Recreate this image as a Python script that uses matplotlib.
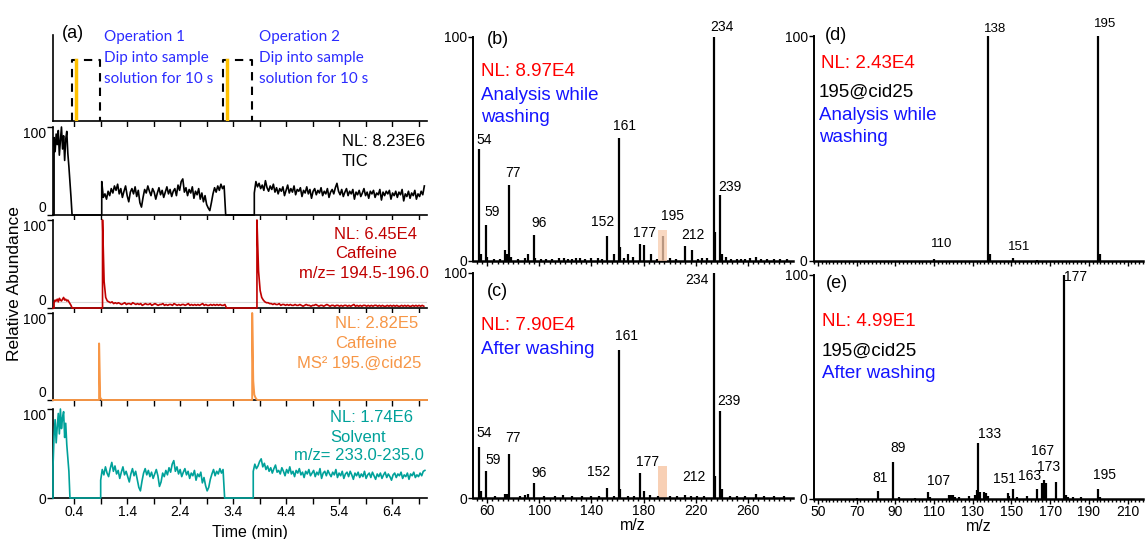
import numpy as np
import matplotlib.pyplot as plt
from matplotlib.ticker import FixedLocator, MultipleLocator, NullFormatter

plt.rcParams['font.family'] = ['Liberation Sans', 'DejaVu Sans']

W, H = 1148, 539

# ---------------- (a) chromatograms ----------------
t_max = 7.06
burst_step = 0.02
scan_step = 0.03

op_start = [0.36, 3.21]
op_end = [0.89, 3.76]
dip_time = [0.43, 3.28]
op_level = 0.71

tic_starts = [0.02, 0.92, 3.80]
tic_steps = [burst_step, scan_step, scan_step]
tic_burst = [88, 72, 92, 80, 96, 68, 85, 100, 75, 90, 62, 86, 95, 70, 55, 38, 20]
tic_run1 = [38, 20, 24, 18, 27, 22, 30, 25, 33, 28, 35, 24, 30, 20, 27, 33, 22, 15, 26, 30,
            24, 32, 21, 28, 14, 9, 20, 29, 25, 33, 27, 22, 30, 26, 18, 25, 31, 23, 28, 20,
            26, 32, 24, 29, 21, 27, 30, 22, 34, 28, 38, 41, 26, 31, 22, 29, 25, 32, 19, 27,
            23, 30, 18, 25, 15, 22, 12, 8, 5, 14, 24, 31, 26, 33, 28, 35, 30, 33]
tic_run2 = [25, 38, 32, 36, 30, 34, 28, 39, 31, 27, 33, 29, 35, 26, 31, 24, 30, 27, 32, 22,
            28, 34, 25, 30, 26, 33, 23, 29, 27, 31, 21, 28, 25, 32, 24, 29, 19, 27, 30, 23,
            28, 25, 31, 22, 27, 24, 30, 20, 26, 29, 24, 31, 36, 27, 23, 29, 21, 26, 30, 22,
            27, 24, 29, 18, 26, 23, 28, 21, 25, 30, 22, 26, 19, 27, 24, 28, 20, 25, 23, 29,
            17, 26, 22, 27, 24, 28, 18, 25, 22, 27, 20, 26, 23, 29, 16, 24, 21, 27, 19, 25,
            22, 28, 18, 24, 21, 27, 23, 33]

red_starts = [0.02, 0.935, 3.85]
red_steps = [burst_step, scan_step, scan_step]
red_burst = [6, 9, 8, 10, 7, 11, 9, 8, 10, 12, 9, 10, 8, 9, 7, 5, 3]
red_run1 = [100, 30, 12, 8, 7, 6, 7, 5, 6, 5, 6, 5, 4, 5, 6, 4, 5, 5, 4, 6, 5, 4, 5, 4, 5, 3,
            4, 5, 4, 4, 5, 3, 4, 5, 4, 3, 4, 4, 5, 3, 4, 3, 4, 4, 3, 5, 4, 3, 4, 3, 4, 4,
            3, 4, 5, 3, 4, 3, 4, 3, 4, 3, 4, 5, 3, 4, 3, 3, 4, 3, 4, 3, 4, 3, 4, 3, 3, 4]
red_run2 = [100, 42, 20, 12, 9, 7, 6, 6, 5, 5, 4, 5, 4, 4, 5, 3, 4, 4, 3, 4, 3, 4, 3, 3, 4,
            3, 3, 4, 3, 2, 3, 4, 3, 3, 2, 3, 3, 4, 3, 2, 3, 3, 2, 3, 4, 3, 2, 3, 3, 2, 3,
            3, 2, 3, 2, 3, 3, 2, 3, 2, 3, 4, 2, 3, 2, 3, 2, 3, 3, 2, 3, 2, 3, 2, 3, 3, 2,
            3, 2, 3, 2, 2, 3, 2, 3, 2, 3, 2, 3, 2, 2, 3, 2, 3, 2, 3, 2, 2, 3, 2, 3, 2, 3,
            2, 3, 2]
red_ref_level = 6.4

ms2_starts = [0.87, 3.76]
ms2_steps = [burst_step, burst_step]
ms2_peak1 = [65, 3, 1]
ms2_peak2 = [100, 22, 6, 3, 1]

sol_starts = [0.0, 0.90, 3.78]
sol_steps = [burst_step, scan_step, scan_step]
sol_burst = [35, 70, 88, 62, 80, 95, 72, 100, 78, 90, 97, 68, 84, 60, 45, 30, 0]
sol_run1 = [20, 32, 26, 35, 28, 24, 33, 40, 30, 36, 27, 31, 22, 29, 35, 26, 30, 24, 18, 27,
            33, 25, 30, 21, 12, 8, 19, 28, 33, 26, 31, 24, 29, 22, 27, 32, 25, 13, 18, 28,
            24, 31, 26, 34, 29, 38, 42, 30, 35, 27, 32, 24, 29, 33, 26, 30, 22, 28, 25, 31,
            20, 27, 24, 29, 17, 23, 14, 8, 12, 21, 27, 32, 25, 30, 27, 33, 28, 32]
sol_run2 = [30, 38, 33, 36, 41, 44, 35, 39, 32, 36, 30, 34, 28, 33, 37, 29, 31, 27, 34, 30,
            25, 32, 28, 35, 27, 30, 24, 31, 28, 33, 26, 29, 23, 30, 27, 32, 25, 28, 31, 24,
            29, 26, 33, 22, 28, 30, 25, 31, 27, 24, 29, 26, 32, 23, 28, 25, 30, 22, 27, 29,
            24, 30, 26, 21, 28, 25, 29, 23, 27, 24, 30, 22, 26, 28, 23, 29, 25, 21, 27, 24,
            28, 22, 26, 29, 23, 27, 24, 20, 26, 28, 23, 27, 25, 29, 22, 26, 24, 28, 21, 27,
            25, 29, 23, 26, 24, 28, 25, 30, 31]

# ---------------- spectra ----------------
b_mz = [54, 55, 59, 60, 65, 70, 74, 75, 77, 78, 84, 89, 91, 96, 97, 101, 105, 110, 115, 119,
        122, 125, 128, 131, 135, 140, 145, 148, 152, 157, 161, 162, 165, 168, 172, 177, 180,
        186, 190, 195, 200, 205, 212, 217, 222, 225, 229, 234, 235, 239, 240, 243, 247, 252,
        255, 258, 262, 266, 270, 275, 280, 285, 290]
b_int = [50, 3, 16, 2, 1, 1, 5, 3, 34, 2, 1, 1.5, 3, 11.6, 1.5, 1, 1, 1, 1.5, 1.5,
         1, 1, 1.5, 1.5, 1, 1.5, 1.5, 1, 11, 3, 55, 6.4, 1.5, 3, 2, 7.6, 7,
         3, 1, 11, 1.5, 1, 6.7, 5, 1, 1.5, 1.5, 100, 13, 29.5, 3, 2, 1, 1,
         1, 1, 1.5, 2, 1, 1, 1, 1, 1]
b_labels = [54, 59, 77, 96, 152, 161, 177, 195, 212, 234, 239]

c_mz = [54, 55, 59, 66, 74, 75, 77, 85, 89, 91, 96, 104, 112, 118, 125, 133, 140, 146, 152,
        157, 161, 162, 168, 173, 177, 180, 185, 191, 200, 206, 212, 216, 221, 226, 234, 235,
        239, 240, 246, 252, 258, 266, 272, 280, 288]
c_int = [22.7, 3, 12, 1, 2, 2, 19.5, 1, 1.5, 2, 6.7, 1, 1, 1.5, 1, 1, 1, 1, 4.4,
         1, 66, 4, 1, 1, 11, 3, 1.2, 1, 1, 1, 1.5, 1, 1, 1, 100, 10,
         38.7, 4, 1, 1, 1, 2, 1, 1, 1]
c_labels = [54, 59, 77, 96, 152, 161, 177, 212, 234, 239]

d_mz = [110, 138, 139, 151, 163, 195, 196]
d_int = [1, 100, 3, 1.5, 0.5, 100, 3]
d_labels = [110, 138, 151, 195]

e_mz = [70, 81, 89, 92, 100, 107, 108, 118, 119, 120, 121, 123, 128, 131, 132, 133, 134, 136,
        137, 138, 148, 149, 151, 153, 158, 163, 166, 167, 168, 173, 177, 178, 179, 182, 186,
        195, 196]
e_int = [0.5, 3.6, 16.5, 0.8, 0.5, 3, 1, 2, 2, 2, 1, 1, 1.5, 2, 4, 25, 3, 3,
         2.5, 1.5, 2.5, 1.5, 4.5, 1, 1.5, 4.5, 7, 8.5, 7, 7.5, 100, 2, 1, 1, 0.8,
         4.3, 1]
e_labels = [81, 89, 107, 133, 151, 163, 167, 173, 177, 195]

caffeine_window = (191, 198)
b_window_height = 13.8
c_window_height = 14.2

# label offsets (pixels) from peak top
b_off = [(5, 9), (6, 13), (4, 12), (5, 12), (-4, 14), (6, 12), (5, 11), (9, 20), (8, 11), (8, 10), (9, 8)]
c_off = [(5, 14), (7, 11), (4, 16), (5, 10), (-8, 16), (8, 13), (8, 11), (9, 18), (-17, -7), (8, 10)]
d_off = [(8, 15), (7, 7), (6, 11), (7, 12)]
e_off = [(2, 13), (5, 14), (10, 11), (11, 9), (-9, 10), (-7, 13), (-2, 29), (-7, 15), (12, -2), (6, 14)]

RED = '#c00000'
ORANGE = '#f79646'
TEAL = '#00a19a'
BLUE = '#1414ff'
OPBLUE = '#2b2bff'
BRIGHTRED = '#ff0000'


def build(starts, steps, runs, t_end):
    t, y = [0.0], [0.0]
    for s, st, r in zip(starts, steps, runs):
        tt = s + st * np.arange(len(r))
        t += [s] + list(tt)
        y += [0] + list(r)
        if tt[-1] < t_end - 0.1:
            t.append(tt[-1] + st)
            y.append(0)
    if t[-1] < t_end - 0.1:
        t.append(t_end)
        y.append(0)
    return np.array(t), np.array(y)


def rect(x0, y0, x1, y1):
    return [x0 / W, 1 - y1 / H, (x1 - x0) / W, (y1 - y0) / H]


fig = plt.figure(figsize=(W / 100, H / 100), dpi=100)


def ftext(x, y, s, **kw):
    kw.setdefault('va', 'center')
    fig.text(x / W, 1 - y / H, s, **kw)


def style_chrom(ax, labels=False, yt=True):
    for sp in ['top', 'right']:
        ax.spines[sp].set_visible(False)
    for sp in ['left', 'bottom']:
        ax.spines[sp].set_linewidth(1.2)
    ax.set_xlim(0, t_max)
    ax.xaxis.set_major_locator(FixedLocator(np.arange(0.4, 7.0, 1.0)))
    ax.xaxis.set_minor_locator(FixedLocator(np.arange(0.9, 7.0, 1.0)))
    ax.tick_params(axis='both', which='both', direction='out', length=4, width=1,
                   labelsize=10, pad=1)
    if labels:
        ax.set_xticklabels([f'{v:.1f}' for v in np.arange(0.4, 7.0, 1.0)])
    else:
        ax.xaxis.set_major_formatter(NullFormatter())
    if yt:
        ax.set_ylim(0, 100)
        ax.set_yticks([0, 100])
        ax.set_yticklabels(['0', '100'])
        ax.get_yticklabels()[1].set_va('top')
        if not labels:
            ax.get_yticklabels()[0].set_va('bottom')
    else:
        ax.set_yticks([])


# operation panel
ax0 = fig.add_axes(rect(53, 35, 427, 121))
style_chrom(ax0, yt=False)
ax0.set_ylim(0, 1)
for s, e, d in zip(op_start, op_end, dip_time):
    ax0.plot([s, s, e, e], [0, op_level, op_level, 0], color='k', lw=1.5,
             ls=(0, (4, 3)), clip_on=False)
    ax0.plot([d, d], [0, op_level], color='#ffc000', lw=2.5, zorder=3)

axes_a = []
for (y0, y1) in [(127, 215), (220, 308), (313, 400), (409, 498)]:
    ax = fig.add_axes(rect(53, y0, 427, y1))
    axes_a.append(ax)
ax_tic, ax_red, ax_ms2, ax_sol = axes_a

t, y = build(tic_starts, tic_steps, [tic_burst, tic_run1, tic_run2], t_max)
ax_tic.plot(t, y, color='k', lw=1.2, clip_on=False)
style_chrom(ax_tic)

ax_red.axhline(red_ref_level, color='#d9d9d9', lw=0.8, zorder=1)
t, y = build(red_starts, red_steps, [red_burst, red_run1, red_run2], t_max)
ax_red.plot(t, y, color=RED, lw=1.2, clip_on=False, zorder=3)
style_chrom(ax_red)

t, y = build(ms2_starts, ms2_steps, [ms2_peak1, ms2_peak2], t_max)
ax_ms2.plot(t, y, color=ORANGE, lw=1.4, clip_on=False, zorder=3)
style_chrom(ax_ms2)

t, y = build(sol_starts, sol_steps, [sol_burst, sol_run1, sol_run2], t_max)
ax_sol.plot(t, y, color=TEAL, lw=1.2, clip_on=False, zorder=3)
style_chrom(ax_sol, labels=True)

ftext(62, 34, '(a)', fontsize=13, ha='left')
for x0, n in zip([104, 259], [1, 2]):
    ftext(x0, 37, f'Operation {n}', fontsize=11, color=OPBLUE, family='Lato', ha='left')
    ftext(x0, 58, 'Dip into sample', fontsize=11, color=OPBLUE, family='Lato', ha='left')
    ftext(x0, 79, 'solution for 10 s', fontsize=11, color=OPBLUE, family='Lato', ha='left')

ftext(342, 141, 'NL: 8.23E6', fontsize=12, ha='left')
ftext(342, 162, 'TIC', fontsize=12, ha='left')
ftext(376, 235, 'NL: 6.45E4', fontsize=12, color=RED, ha='center')
ftext(366, 254, 'Caffeine', fontsize=12, color=RED, ha='center')
ftext(364, 274, 'm/z= 194.5-196.0', fontsize=12, color=RED, ha='center')
ftext(377, 324, 'NL: 2.82E5', fontsize=12, color=ORANGE, ha='center')
ftext(366, 344, 'Caffeine', fontsize=12, color=ORANGE, ha='center')
ftext(359, 363, 'MS² 195.@cid25', fontsize=12, color=ORANGE, ha='center')
ftext(372, 417, 'NL: 1.74E6', fontsize=12, color=TEAL, ha='center')
ftext(358, 437, 'Solvent', fontsize=12, color=TEAL, ha='center')
ftext(359, 455, 'm/z= 233.0-235.0', fontsize=12, color=TEAL, ha='center')
ftext(15, 284, 'Relative Abundance', fontsize=12.5, rotation=90, ha='center')
ftext(250, 532, 'Time (min)', fontsize=11.5, ha='center')


# ---------------- spectra panels ----------------
def spectrum(box, mz, inten, labels, offs, xlim, minor, show_x, lsize=10):
    ax = fig.add_axes(rect(*box))
    ax.vlines(mz, 0, inten, color='k', lw=1.6, clip_on=False, zorder=3)
    ax.set_xlim(*xlim)
    ax.set_ylim(0, 100)
    for sp in ['top', 'right']:
        ax.spines[sp].set_visible(False)
    ax.spines['left'].set_linewidth(1.4)
    ax.spines['bottom'].set_linewidth(1.8)
    ax.set_yticks([0, 100])
    ax.xaxis.set_minor_locator(MultipleLocator(minor))
    ax.tick_params(axis='both', which='both', direction='out', width=1, labelsize=10, pad=1)
    ax.tick_params(axis='x', which='minor', length=2.5)
    ax.tick_params(axis='x', which='major', length=3.5)
    ax.tick_params(axis='y', length=3.5)
    if not show_x:
        ax.xaxis.set_major_formatter(NullFormatter())
    lookup = dict(zip(mz, inten))
    for lab, (dx, dy) in zip(labels, offs):
        ax.annotate(str(lab), xy=(lab, lookup[lab]), xytext=(dx, dy),
                    textcoords='offset pixels', ha='center', va='center',
                    fontsize=lsize, annotation_clip=False)
    return ax


ax_b = spectrum((473, 37, 793, 261), b_mz, b_int, b_labels, b_off, (49.2, 294.6), 4, False)
ax_b.set_xticks(np.arange(60, 261, 40))
ax_b.bar(np.mean(caffeine_window), b_window_height, width=np.diff(caffeine_window)[0],
         color='#f8cbad', alpha=0.75, zorder=4)
ax_c = spectrum((473, 273, 793, 498), c_mz, c_int, c_labels, c_off, (49.2, 294.6), 4, True)
ax_c.set_xticks(np.arange(60, 261, 40))
ax_c.bar(np.mean(caffeine_window), c_window_height, width=np.diff(caffeine_window)[0],
         color='#f8cbad', alpha=0.9, zorder=2)
ax_c.set_xlabel('m/z', fontsize=11.5, labelpad=0)

ax_d = spectrum((814, 36, 1143, 261), d_mz, d_int, d_labels, d_off, (48, 218), 2, False, lsize=9.5)
ax_d.set_xticks(np.arange(50, 211, 20))
ax_e = spectrum((814, 275, 1143, 499), e_mz, e_int, e_labels, e_off, (48, 218), 2, True)
ax_e.set_xticks(np.arange(50, 211, 20))
ax_e.set_xlabel('m/z', fontsize=11.5, labelpad=0)

ftext(487, 40, '(b)', fontsize=13, ha='left')
ftext(481, 72, 'NL: 8.97E4', fontsize=13.5, color=BRIGHTRED, ha='left')
ftext(481, 95, 'Analysis while', fontsize=13.5, color=BLUE, ha='left')
ftext(481, 117, 'washing', fontsize=13.5, color=BLUE, ha='left')

ftext(487, 292, '(c)', fontsize=13, ha='left')
ftext(481, 326, 'NL: 7.90E4', fontsize=13.5, color=BRIGHTRED, ha='left')
ftext(481, 349, 'After washing', fontsize=13.5, color=BLUE, ha='left')

ftext(825, 35, '(d)', fontsize=13, ha='left')
ftext(821, 63, 'NL: 2.43E4', fontsize=13.5, color=BRIGHTRED, ha='left')
ftext(819, 92, '195@cid25', fontsize=13.5, ha='left')
ftext(819, 115, 'Analysis while', fontsize=13.5, color=BLUE, ha='left')
ftext(819, 138, 'washing', fontsize=13.5, color=BLUE, ha='left')

ftext(826, 283, '(e)', fontsize=13, ha='left')
ftext(822, 321, 'NL: 4.99E1', fontsize=13.5, color=BRIGHTRED, ha='left')
ftext(822, 351, '195@cid25', fontsize=13.5, ha='left')
ftext(822, 373, 'After washing', fontsize=13.5, color=BLUE, ha='left')

fig.savefig('out.png', dpi=100)
